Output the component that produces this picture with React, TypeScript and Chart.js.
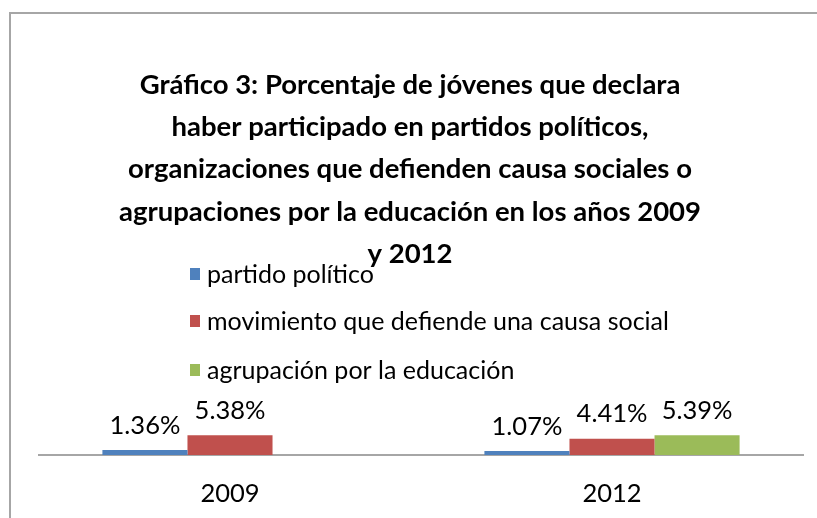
import React, { useEffect, useRef } from "react";
import { Chart, registerables } from "chart.js";

Chart.register(...registerables);

const categories = ["2009", "2012"];
const seriesNames = [
  "partido político",
  "movimiento que defiende una causa social",
  "agrupación por la educación",
];
const partidoPolitico = [1.36, 1.07];
const movimientoCausaSocial = [5.38, 4.41];
const agrupacionEducacion: (number | null)[] = [null, 5.39];
const seriesColors = ["#4F81BD", "#C0504D", "#9BBB59"];
const titleLines = [
  "Gráfico 3: Porcentaje de jóvenes que declara",
  "haber participado en partidos políticos,",
  "organizaciones que defienden causa sociales o",
  "agrupaciones por la educación en los años 2009",
  "y 2012",
];

const FONT = "Lato, 'Open Sans', sans-serif";

const framePlugin = {
  id: "frame",
  beforeDraw(chart: any) {
    const ctx = chart.ctx;
    ctx.save();
    ctx.fillStyle = "#ffffff";
    ctx.fillRect(0, 0, chart.width, chart.height);
    ctx.strokeStyle = "#A6A6A6";
    ctx.lineWidth = 2;
    ctx.beginPath();
    ctx.moveTo(10, chart.height);
    ctx.lineTo(10, 13);
    ctx.lineTo(chart.width, 13);
    ctx.stroke();
    ctx.restore();
  },
};

const titlePlugin = {
  id: "titleBlock",
  afterDraw(chart: any) {
    const ctx = chart.ctx;
    ctx.save();
    ctx.fillStyle = "#000000";
    ctx.font = `bold 27.5px ${FONT}`;
    ctx.textAlign = "center";
    ctx.textBaseline = "middle";
    titleLines.forEach((line, i) => {
      ctx.fillText(line, 410, 85 + i * 42.3);
    });
    ctx.restore();
  },
};

const legendPlugin = {
  id: "stackLegend",
  afterDraw(chart: any) {
    const ctx = chart.ctx;
    ctx.save();
    ctx.font = `25px ${FONT}`;
    ctx.textAlign = "left";
    ctx.textBaseline = "middle";
    const rows = [274, 321, 370];
    chart.data.datasets.forEach((ds: any, i: number) => {
      const y = rows[i];
      ctx.fillStyle = ds.backgroundColor;
      ctx.fillRect(190, y - 6, 10, 12);
      ctx.fillStyle = "#000000";
      ctx.fillText(ds.label, 207, y + 1);
    });
    ctx.restore();
  },
};

const categoryLabelPlugin = {
  id: "categoryLabels",
  afterDraw(chart: any) {
    const ctx = chart.ctx;
    const xScale = chart.scales.x;
    ctx.save();
    ctx.font = `25.5px ${FONT}`;
    ctx.fillStyle = "#000000";
    ctx.textAlign = "center";
    ctx.textBaseline = "middle";
    chart.data.labels.forEach((lab: string, i: number) => {
      ctx.fillText(lab, xScale.getPixelForTick(i), chart.chartArea.bottom + 39);
    });
    ctx.restore();
  },
};

const dataLabelPlugin = {
  id: "dataLabels",
  afterDatasetsDraw(chart: any) {
    const ctx = chart.ctx;
    ctx.save();
    ctx.font = `25.5px ${FONT}`;
    ctx.fillStyle = "#000000";
    ctx.textAlign = "center";
    ctx.textBaseline = "alphabetic";
    chart.data.datasets.forEach((ds: any, di: number) => {
      const meta = chart.getDatasetMeta(di);
      meta.data.forEach((bar: any, idx: number) => {
        const v = ds.data[idx];
        if (v === null || v === undefined) return;
        ctx.fillText(v.toFixed(2) + "%", bar.x, bar.y - 16.5);
      });
    });
    ctx.restore();
  },
};

export default function App() {
  const canvasRef = useRef<HTMLCanvasElement | null>(null);

  useEffect(() => {
    const canvas = canvasRef.current;
    if (!canvas) return;
    const seriesData = [partidoPolitico, movimientoCausaSocial, agrupacionEducacion];
    const chart = new Chart(canvas, {
      type: "bar",
      data: {
        labels: categories,
        datasets: seriesNames.map((name, i) => ({
          label: name,
          data: seriesData[i],
          backgroundColor: seriesColors[i],
          borderWidth: 0,
          categoryPercentage: 0.668,
          barPercentage: 1,
        })),
      },
      options: {
        animation: false,
        responsive: true,
        maintainAspectRatio: false,
        layout: { padding: { top: 433, left: 39, right: 14, bottom: 55 } },
        plugins: {
          legend: { display: false },
          title: { display: false },
          tooltip: { enabled: false },
        },
        scales: {
          x: {
            grid: { display: false },
            border: { display: true, color: "#A6A6A6", width: 2 },
            ticks: { display: false },
          },
          y: {
            display: false,
            min: 0,
            max: 6,
          },
        },
      },
      plugins: [framePlugin, titlePlugin, legendPlugin, categoryLabelPlugin, dataLabelPlugin],
    });
    return () => chart.destroy();
  }, []);

  return (
    <div style={{ position: "fixed", left: 0, top: 0, width: 817, height: 518 }}>
      <canvas ref={canvasRef} />
    </div>
  );
}
